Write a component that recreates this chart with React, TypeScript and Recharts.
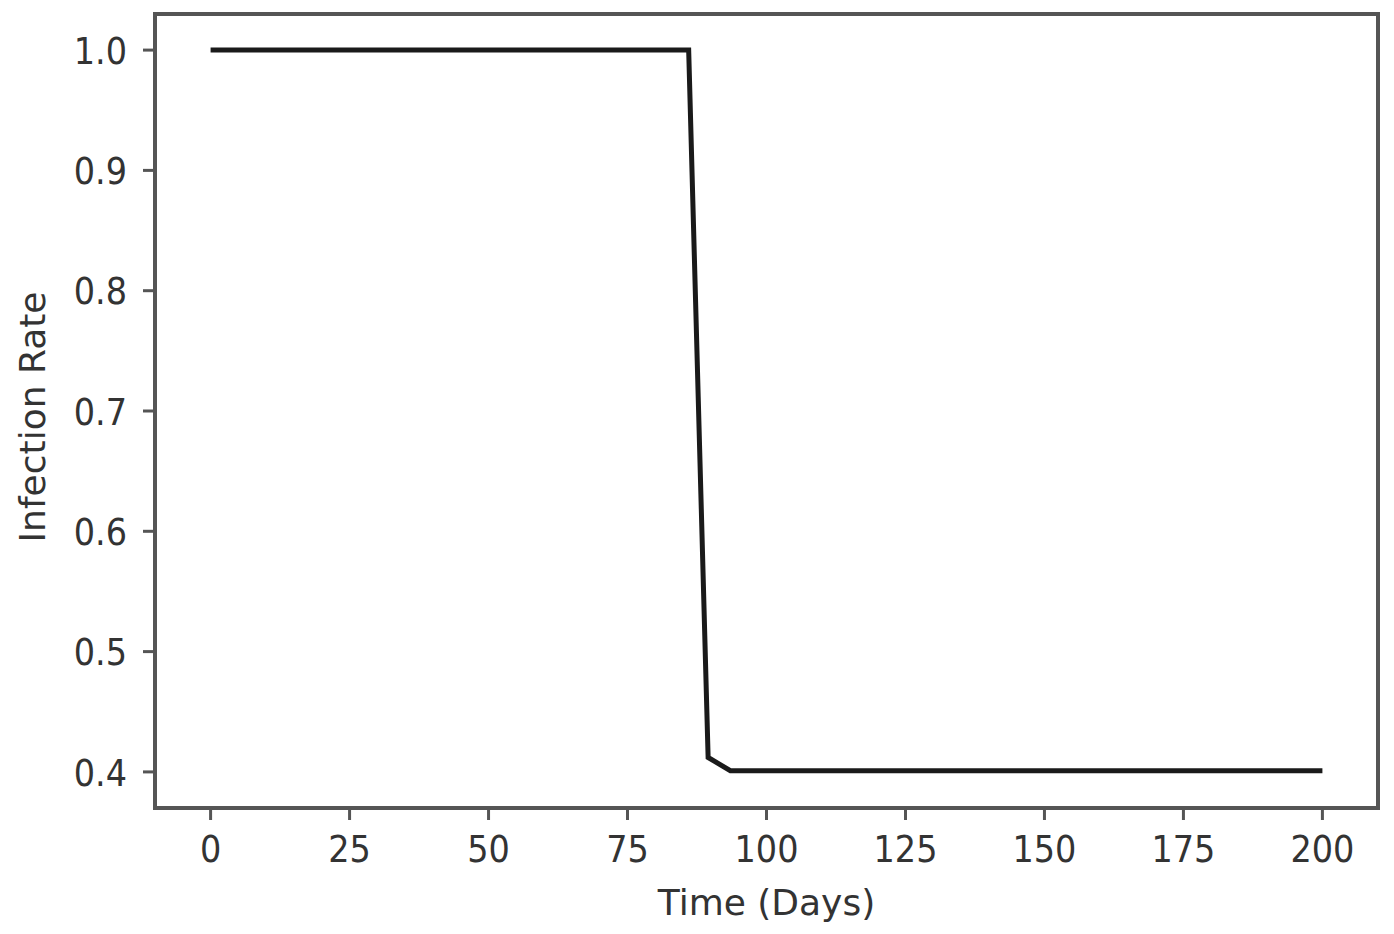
import { LineChart, Line, XAxis, YAxis, ReferenceArea } from 'recharts';

const days = [0, 86, 89.5, 93.5, 200];
const infectionRate = [1.0, 1.0, 0.412, 0.401, 0.401];
const xTicks = [0, 25, 50, 75, 100, 125, 150, 175, 200];
const yTicks = [0.4, 0.5, 0.6, 0.7, 0.8, 0.9, 1.0];

const data = days.map((d, i) => ({ day: d, rate: infectionRate[i] }));

const FONT = '"DejaVu Sans", sans-serif';
const AXIS = '#555';
const TEXT = '#333';
const STRETCH = 1.13;

// the reference text looks a little taller than wide, so stretch it a bit
const XTick = ({ x, y, payload }: any) => (
  <g transform={`translate(${x},${y})`}>
    <text transform={`scale(1,${STRETCH})`} textAnchor="middle" dy="0.73em" fill={TEXT} fontSize={33.5} fontFamily={FONT}>
      {payload.value}
    </text>
  </g>
);

const YTick = ({ x, y, payload }: any) => (
  <g transform={`translate(${x},${y})`}>
    <text transform={`scale(1,${STRETCH})`} textAnchor="end" dy="0.36em" fill={TEXT} fontSize={33.5} fontFamily={FONT}>
      {Number(payload.value).toFixed(1)}
    </text>
  </g>
);

export default function App() {
  return (
    <div style={{ position: 'absolute', left: 0, top: 0, width: 1394, height: 934, background: '#fff' }}>
      <LineChart width={1394} height={934} data={data} margin={{ top: 14, right: 16, left: 0, bottom: 0 }}>
        <XAxis
          dataKey="day"
          type="number"
          domain={[-10, 210]}
          ticks={xTicks}
          height={126}
          tickSize={12}
          tickMargin={14}
          axisLine={{ stroke: AXIS, strokeWidth: 4 }}
          tickLine={{ stroke: AXIS, strokeWidth: 3 }}
          tick={<XTick />}
          label={{ value: 'Time (Days)', position: 'insideBottom', offset: 19, fill: TEXT, fontSize: 36, fontFamily: FONT }}
        />
        <YAxis
          type="number"
          domain={[0.37, 1.03]}
          ticks={yTicks}
          width={155}
          tickSize={12}
          tickMargin={16}
          axisLine={{ stroke: AXIS, strokeWidth: 4 }}
          tickLine={{ stroke: AXIS, strokeWidth: 3 }}
          tick={<YTick />}
          label={{ value: 'Infection Rate', angle: -90, position: 'center', dx: -45, dy: 6, fill: TEXT, fontSize: 36, fontFamily: FONT }}
        />
        <ReferenceArea x1={-10} x2={210} y1={0.37} y2={1.03} fill="none" stroke={AXIS} strokeWidth={4} />
        <Line
          type="linear"
          dataKey="rate"
          stroke="#1a1a1a"
          strokeWidth={5}
          dot={false}
          isAnimationActive={false}
        />
      </LineChart>
    </div>
  );
}
